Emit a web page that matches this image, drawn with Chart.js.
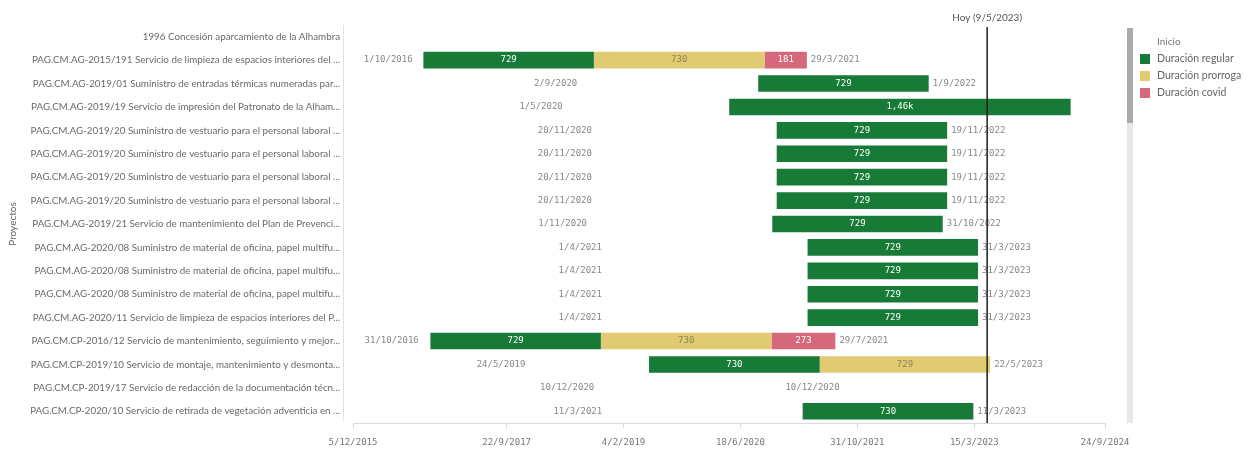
<!DOCTYPE html>
<html><head><meta charset="utf-8">
<script src="https://cdn.jsdelivr.net/npm/chart.js@4/dist/chart.umd.min.js"></script>
<style>html,body{margin:0;padding:0;background:#fff}</style>
</head><body>
<canvas id="c" width="1251" height="450"></canvas>
<script>
const categories = [
  '1996 Concesión aparcamiento de la Alhambra',
  'PAG.CM.AG-2015/191 Servicio de limpieza de espacios interiores del ...',
  'PAG.CM.AG-2019/01 Suministro de entradas térmicas numeradas par...',
  'PAG.CM.AG-2019/19 Servicio de impresión del Patronato de la Alham...',
  'PAG.CM.AG-2019/20 Suministro de vestuario para el personal laboral ...',
  'PAG.CM.AG-2019/20 Suministro de vestuario para el personal laboral ...',
  'PAG.CM.AG-2019/20 Suministro de vestuario para el personal laboral ...',
  'PAG.CM.AG-2019/20 Suministro de vestuario para el personal laboral ...',
  'PAG.CM.AG-2019/21 Servicio de mantenimiento del Plan de Prevenci...',
  'PAG.CM.AG-2020/08 Suministro de material de oficina, papel multifu...',
  'PAG.CM.AG-2020/08 Suministro de material de oficina, papel multifu...',
  'PAG.CM.AG-2020/08 Suministro de material de oficina, papel multifu...',
  'PAG.CM.AG-2020/11 Servicio de limpieza de espacios interiores del P...',
  'PAG.CM.CP-2016/12 Servicio de mantenimiento, seguimiento y mejor...',
  'PAG.CM.CP-2019/10 Servicio de montaje, mantenimiento y desmonta...',
  'PAG.CM.CP-2019/17 Servicio de redacción de la documentación técn...',
  'PAG.CM.CP-2020/10 Servicio de retirada de vegetación adventicia en ...'
];
const startDates = [null, '1/10/2016', '2/9/2020', '1/5/2020', '20/11/2020', '20/11/2020', '20/11/2020', '20/11/2020',
  '1/11/2020', '1/4/2021', '1/4/2021', '1/4/2021', '1/4/2021', '31/10/2016', '24/5/2019', '10/12/2020', '11/3/2021'];
const regularDays   = [null, 729, 729, 1460, 729, 729, 729, 729, 729, 729, 729, 729, 729, 729, 730, 0, 730];
const extensionDays = [null, 730, 0, 0, 0, 0, 0, 0, 0, 0, 0, 0, 0, 730, 729, 0, 0];
const covidDays     = [null, 181, 0, 0, 0, 0, 0, 0, 0, 0, 0, 0, 0, 273, 0, 0, 0];
const seriesNames = ['Inicio', 'Duración regular', 'Duración prorroga', 'Duración covid'];
const seriesColors = ['rgba(0,0,0,0)', '#177a37', '#e1cb72', '#d5687b'];
const seriesLabelColors = ['#888888', '#ffffff', '#8f8554', '#ffffff'];
const xTickLabels = ['5/12/2015', '22/9/2017', '4/2/2019', '18/6/2020', '31/10/2021', '15/3/2023', '24/9/2024'];
const todayDate = '9/5/2023';
const todayText = 'Hoy (9/5/2023)';
const legendTitle = 'Inicio';
const yAxisTitle = 'Proyectos';

const DAY = 86400000;
function parseDay(s) { if (!s) return null; const p = s.split('/').map(Number); return Date.UTC(p[2], p[1] - 1, p[0]) / DAY; }
function fmtDay(n) { const d = new Date(Math.round(n) * DAY); return d.getUTCDate() + '/' + (d.getUTCMonth() + 1) + '/' + d.getUTCFullYear(); }
function fmtNum(v) { return v >= 1000 ? (v / 1000).toFixed(2).replace('.', ',') + 'k' : String(v); }

const tickValues = xTickLabels.map(parseDay);
const startValues = startDates.map(parseDay);
const seriesData = [startValues, regularDays, extensionDays, covidDays];

const MONO = '"DejaVu Sans Mono", monospace';
const SANS = 'Lato, "Open Sans", sans-serif';

const labelPlugin = {
  id: 'ganttLabels',
  afterDatasetsDraw(chart) {
    const ctx = chart.ctx, area = chart.chartArea, xs = chart.scales.x;
    ctx.save();
    ctx.font = '9px ' + MONO;
    ctx.textBaseline = 'middle';
    categories.forEach((c, i) => {
      const s = seriesData[0][i];
      if (s == null) return;
      const y = chart.getDatasetMeta(0).data[i].y;
      const sx = xs.getPixelForValue(s);
      if (sx > area.left) {
        ctx.fillStyle = seriesLabelColors[0]; ctx.textAlign = 'center';
        ctx.fillText(fmtDay(s), (area.left + sx) / 2, y);
      }
      let end = s;
      for (let d = 1; d < seriesData.length; d++) {
        const v = seriesData[d][i];
        if (!v) continue;
        end += v;
        const el = chart.getDatasetMeta(d).data[i];
        ctx.fillStyle = seriesLabelColors[d]; ctx.textAlign = 'center';
        ctx.fillText(fmtNum(v), (el.x + el.base) / 2, el.y);
      }
      const ex = xs.getPixelForValue(end);
      const txt = fmtDay(end);
      const w = ctx.measureText(txt).width;
      if (ex + 4 + w <= area.right) {
        ctx.fillStyle = '#888888'; ctx.textAlign = 'left';
        ctx.fillText(txt, ex + 4, y);
      }
    });
    // today line
    const tx = xs.getPixelForValue(parseDay(todayDate));
    ctx.strokeStyle = '#1e1e1e'; ctx.lineWidth = 1.5;
    ctx.beginPath(); ctx.moveTo(tx, area.top + 2); ctx.lineTo(tx, area.bottom); ctx.stroke();
    ctx.font = '10px ' + SANS; ctx.fillStyle = '#555'; ctx.textAlign = 'center';
    ctx.fillText(todayText, tx, 18);
    // y axis line
    ctx.strokeStyle = '#e2e2e2'; ctx.lineWidth = 1;
    ctx.beginPath(); ctx.moveTo(area.left - 9.5, area.top); ctx.lineTo(area.left - 9.5, area.bottom - 2); ctx.stroke();
    ctx.restore();
  },
  afterDraw(chart) {
    const ctx = chart.ctx, area = chart.chartArea;
    ctx.save();
    // scrollbar
    ctx.fillStyle = '#e8e8e8'; ctx.fillRect(1127, 28, 6, area.bottom - 28);
    ctx.fillStyle = '#ababab'; ctx.fillRect(1127, 28, 6, 95);
    // legend
    ctx.textBaseline = 'middle'; ctx.textAlign = 'left';
    ctx.font = '10px ' + SANS; ctx.fillStyle = '#777';
    ctx.fillText(legendTitle, 1157, 42);
    ctx.font = '10.5px ' + SANS;
    for (let d = 1; d < seriesNames.length; d++) {
      const cy = 59 + (d - 1) * 17;
      ctx.fillStyle = seriesColors[d]; ctx.fillRect(1140, cy - 5, 10, 10);
      ctx.fillStyle = '#666'; ctx.fillText(seriesNames[d], 1157, cy);
    }
    ctx.restore();
  }
};

new Chart(document.getElementById('c'), {
  type: 'bar',
  data: {
    labels: categories,
    datasets: seriesNames.map((n, d) => ({
      label: n, data: seriesData[d], backgroundColor: seriesColors[d], borderWidth: 0,
      barPercentage: 0.71, categoryPercentage: 1
    }))
  },
  options: {
    indexAxis: 'y', responsive: false, animation: false, devicePixelRatio: 1,
    layout: { padding: { left: 3, right: 146, top: 25, bottom: 0 } },
    plugins: { legend: { display: false }, tooltip: { enabled: false } },
    scales: {
      x: {
        type: 'linear', stacked: true, min: tickValues[0], max: tickValues[tickValues.length - 1],
        afterBuildTicks(scale) { scale.ticks = tickValues.map(v => ({ value: v })); },
        afterFit(scale) { scale.height = 27; },
        grid: { drawOnChartArea: false, drawTicks: true, tickLength: 5, color: '#d9d9d9' },
        border: { display: true, color: '#d9d9d9' },
        ticks: { autoSkip: false, maxRotation: 0, padding: 9, color: '#777', font: { family: MONO, size: 9 },
          callback: v => fmtDay(v) }
      },
      y: {
        stacked: true,
        afterFit(scale) { scale.width = 350; },
        grid: { display: false, drawTicks: false }, border: { display: false },
        ticks: { padding: 13, color: '#6a6a6a', font: { family: SANS, size: 9.8 } },
        title: { display: true, text: yAxisTitle, color: '#666', font: { family: SANS, size: 10 } }
      }
    }
  },
  plugins: [labelPlugin]
});
</script>
</body></html>
